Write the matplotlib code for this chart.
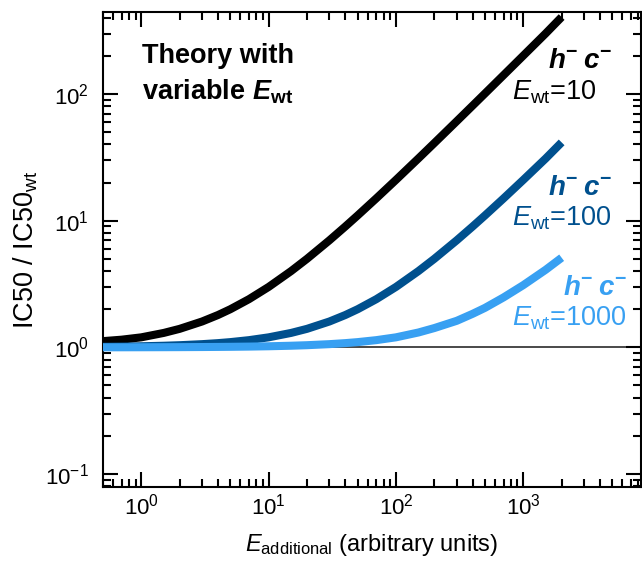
import matplotlib
matplotlib.use("Agg")
import matplotlib.pyplot as plt

plt.rcParams["font.family"] = ["Liberation Sans", "DejaVu Sans"]
plt.rcParams["mathtext.fontset"] = "custom"
plt.rcParams["mathtext.rm"] = "Liberation Sans"
plt.rcParams["mathtext.it"] = "Liberation Sans:italic"
plt.rcParams["mathtext.bf"] = "Liberation Sans:bold"
plt.rcParams["mathtext.bfit"] = "Liberation Sans:italic:bold"

# E_additional values (arbitrary units)
e_additional = [0.5, 0.7, 1, 1.5, 2, 3, 4, 5, 7, 10, 15, 20, 30, 40, 50, 70,
                100, 150, 200, 300, 400, 500, 700, 1000, 1500, 2000]

# IC50 / IC50_wt for each wild-type expression level
ratio_ewt10 = [1.12, 1.15, 1.2, 1.3, 1.4, 1.6, 1.8, 2.0, 2.4, 3.0, 4.0, 5.0, 7.0,
               9.0, 11, 15, 21, 31, 41, 61, 81, 101, 141, 201, 301, 405]
ratio_ewt100 = [1.01, 1.014, 1.02, 1.03, 1.04, 1.06, 1.08, 1.1, 1.14, 1.2, 1.3,
                1.4, 1.6, 1.8, 2.0, 2.4, 3.0, 4.0, 5.0, 7.0, 9.0, 11, 15, 21,
                31, 41.5]
ratio_ewt1000 = [1.001, 1.0014, 1.002, 1.003, 1.004, 1.006, 1.008, 1.01, 1.014,
                 1.02, 1.03, 1.04, 1.06, 1.08, 1.1, 1.14, 1.2, 1.31, 1.42, 1.62,
                 1.84, 2.05, 2.48, 3.1, 4.1, 5.1]

ewt_levels = ["10", "100", "1000"]
colors = ["#000000", "#00508e", "#38a0f2"]

W, H = 642, 562
fig = plt.figure(figsize=(W / 100, H / 100), dpi=100)
ax = fig.add_axes([103 / W, 1 - 487 / H, (641 - 103) / W, (487 - 12) / H])

ax.set_xscale("log")
ax.set_yscale("log")
ax.set_xlim(0.5, 8400)
ax.set_ylim(0.079, 444)

ax.axhline(1.0, color="#3a3a3a", lw=1.3, zorder=1)

for ys, c in zip([ratio_ewt10, ratio_ewt100, ratio_ewt1000], colors):
    ax.plot(e_additional, ys, color=c, lw=5.8, solid_capstyle="butt",
            solid_joinstyle="round", zorder=3)

for s in ax.spines.values():
    s.set_linewidth(1.5)

ax.tick_params(which="both", direction="in", top=True, right=True, width=1.5,
               labelsize=16)
ax.tick_params(which="major", length=11)
ax.tick_params(which="minor", length=6)
ax.tick_params(axis="x", pad=5)
ax.tick_params(axis="y", pad=10)

ax.set_xlabel(r"$E_{\mathrm{additional}}$ (arbitrary units)", fontsize=17,
              labelpad=9)
ax.set_ylabel(r"IC50 / IC50$_{\mathrm{wt}}$", fontsize=19.5, labelpad=4)


def fx(px):
    return px / W


def fy(py):
    return 1 - py / H


fig.text(fx(142), fy(63), "Theory with", fontsize=19.5, fontweight="bold",
         va="baseline", ha="left")
fig.text(fx(142), fy(100), r"variable $\mathbfit{E}_{\mathbf{wt}}$",
         fontsize=19.5, fontweight="bold", va="baseline", ha="left")

hc_pos = [(612, 68), (612, 195), (627, 295)]
ewt_pos = [(512, 100), (512, 226), (512, 326)]
for lvl, c, (hx, hy), (ex, ey) in zip(ewt_levels, colors, hc_pos, ewt_pos):
    fig.text(fx(hx), fy(hy),
             r"$\mathbfit{h}^{\mathbf{-}}\;\mathbfit{c}^{\mathbf{-}}$",
             fontsize=20, color=c, ha="right", va="baseline")
    fig.text(fx(ex), fy(ey), r"$E_{\mathrm{wt}}$=" + lvl, fontsize=19.5,
             color=c, ha="left", va="baseline")

fig.savefig("out.png", dpi=100)
